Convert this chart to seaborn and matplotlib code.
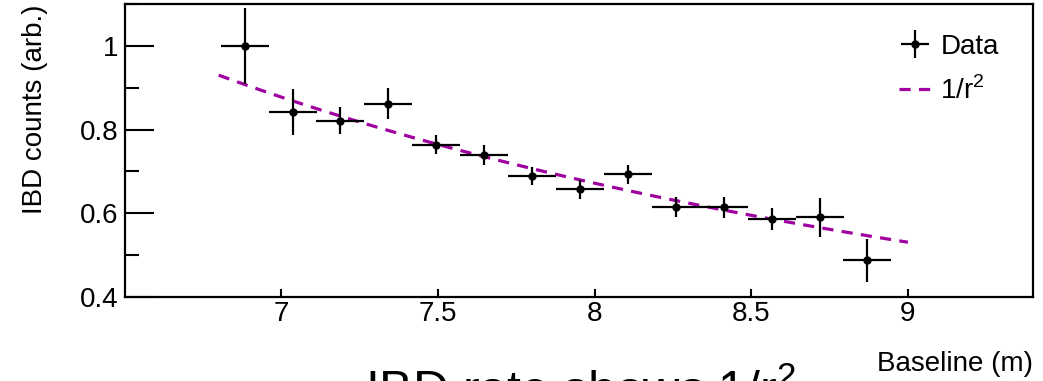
import numpy as np
import matplotlib
matplotlib.use("Agg")
import matplotlib.pyplot as plt
from matplotlib.ticker import MultipleLocator
import seaborn as sns

# baseline bins (m)
baseline = [6.884, 7.036, 7.188, 7.341, 7.494, 7.648, 7.801,
            7.954, 8.107, 8.259, 8.412, 8.565, 8.718, 8.870]
bin_half = [0.0766] * 14
counts = [1.000, 0.842, 0.821, 0.862, 0.764, 0.739, 0.689,
          0.657, 0.693, 0.616, 0.614, 0.586, 0.590, 0.488]
count_err = [0.090, 0.055, 0.032, 0.037, 0.023, 0.023, 0.021,
             0.023, 0.022, 0.024, 0.026, 0.027, 0.046, 0.051]

# 1/r^2 model, normalisation
r_fit = np.linspace(6.80, 9.00, 100)
norm = 43.0
model = norm / r_fit**2

sns.set_style("ticks")
plt.rcParams['font.family'] = ['Liberation Sans', 'DejaVu Sans']
plt.rcParams['mathtext.fontset'] = 'custom'
plt.rcParams['mathtext.rm'] = 'Liberation Sans'
for k in ['text.color', 'axes.labelcolor', 'xtick.color', 'ytick.color',
          'axes.edgecolor']:
    plt.rcParams[k] = 'black'

fig = plt.figure(figsize=(10.43, 3.81), dpi=100)
ax = fig.add_axes([0.1196, 0.2205, 0.871, 0.769])

sns.lineplot(x=r_fit, y=model, ax=ax, color='#a000a0', lw=2.3,
             label='1/r$^2$', zorder=2)
ax.lines[-1].set_dashes([3.5, 2.6])
ax.errorbar(baseline, counts, xerr=bin_half, yerr=count_err, fmt='o',
            color='black', ms=5, elinewidth=1.6, capsize=0, label='Data',
            zorder=3)

ax.set_xlim(6.5, 9.4)
ax.set_ylim(0.4, 1.1)
ax.set_xticks([7, 7.5, 8, 8.5, 9])
ax.set_xticklabels(['7', '7.5', '8', '8.5', '9'])
ax.set_yticks([0.4, 0.6, 0.8, 1.0])
ax.set_yticklabels(['0.4', '0.6', '0.8', '1'])
ax.yaxis.set_minor_locator(MultipleLocator(0.1))
ax.tick_params(axis='x', direction='in', length=6, width=1.5,
               labelsize=20, pad=3)
ax.tick_params(axis='y', which='major', direction='in', length=21,
               width=1.5, labelsize=20, pad=4.5)
ax.tick_params(axis='y', which='minor', direction='in', length=10,
               width=1.5)
for s in ax.spines.values():
    s.set_linewidth(1.6)
    s.set_visible(True)

ax.set_ylabel('IBD counts (arb.)', fontsize=20, loc='top')
ax.yaxis.set_label_coords(-0.084, 1.0)
ax.set_xlabel('Baseline (m)', fontsize=20, loc='right')
ax.xaxis.set_label_coords(1.0, -0.185)

h, l = ax.get_legend_handles_labels()
order = [l.index('Data'), l.index('1/r$^2$')]
ax.legend([h[i] for i in order], [l[i] for i in order], frameon=False,
          fontsize=20, loc='upper right', bbox_to_anchor=(0.962, 0.898),
          handlelength=1.2, handletextpad=0.3, labelspacing=0.6,
          borderaxespad=0, borderpad=0)

fig.text(0.557, -0.069, 'IBD rate shows 1/r$^2$', fontsize=36,
         ha='center', va='baseline')

fig.savefig('out.png', dpi=100)
